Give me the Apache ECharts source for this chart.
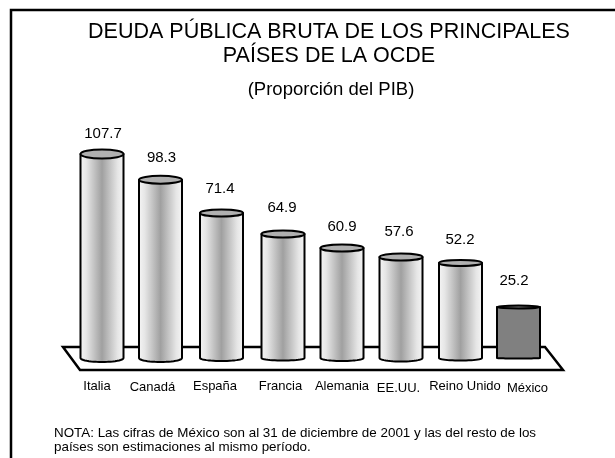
<!DOCTYPE html>
<html>
<head>
<meta charset="utf-8">
<style>html,body{margin:0;padding:0;background:#fff}#c{width:615px;height:458px}</style>
<script src="https://cdn.jsdelivr.net/npm/echarts@6/dist/echarts.min.js"></script>
</head>
<body>
<div id="c"></div>
<script>
const categories = ['Italia','Canadá','España','Francia','Alemania','EE.UU.','Reino Unido','México'];
// printed values above each cylinder
const printedValues = [107.7, 98.3, 71.4, 64.9, 60.9, 57.6, 52.2, 25.2];
// cylinder heights as drawn in the picture (the original art is not strictly proportional to the printed values)
const drawnHeights = [107.7, 94.1, 76.5, 65.5, 58.1, 53.3, 50.2, 26.9];

// style-only nudges
const capRy = [4.5, 4, 3.5, 3.5, 3.5, 3.5, 3, 1.5];
const baseRy = [4, 4, 3, 2.5, 3, 3.5, 2.5, 0.5];
const barDx = [0, -1, 0.5, 2.5, 2, 1.5, 1.5, 0];
const valueGap = [20, 22, 24, 26, 21, 25, 23, 26];
const valueDx = [1, 0, -1, 1.5, 2, -0.5, 1, -4.5];
const labelDx = [-5, -9, -6, 0, 2, -1, 6, 9];
const labelDy = [0, 1.5, 0, 0, 0, 2, 0, 2];

const rich = {};
categories.forEach((c, i) => {
  const dx = labelDx[i], dy = labelDy[i];
  rich['c' + i] = {
    fontFamily: 'Liberation Sans', fontSize: 13, color: '#000',
    padding: [dy, dx < 0 ? -2 * dx : 0, 0, dx > 0 ? 2 * dx : 0]
  };
});

const chart = echarts.init(document.getElementById('c'), null, {renderer: 'canvas'});
const titleStyle = {fontFamily: 'Liberation Sans', fontWeight: 'normal', color: '#000'};

chart.setOption({
  animation: false,
  backgroundColor: '#fff',
  title: [
    {text: 'DEUDA PÚBLICA BRUTA DE LOS PRINCIPALES\nPAÍSES DE LA OCDE', left: 324, top: 15.5, textAlign: 'center',
      textStyle: Object.assign({fontSize: 21.5, lineHeight: 24}, titleStyle)},
    {text: '(Proporción del PIB)', left: 326, top: 75, textAlign: 'center',
      textStyle: Object.assign({fontSize: 18.5}, titleStyle)},
    {text: 'NOTA: Las cifras de México son al 31 de diciembre de 2001 y las del resto de los\npaíses son estimaciones al mismo período.',
      left: 49, top: 421, textStyle: Object.assign({fontSize: 13.4, lineHeight: 14.5}, titleStyle)}
  ],
  grid: {left: 72.25, width: 476, top: 130.7, height: 227.3},
  xAxis: {
    type: 'category', data: categories,
    axisLine: {show: false}, axisTick: {show: false},
    axisLabel: {
      interval: 0, margin: 21.5, hideOverlap: false,
      formatter: (v, i) => '{c' + i + '|' + v + '}',
      rich
    }
  },
  yAxis: {type: 'value', min: 0, max: 120, show: false},
  graphic: [
    {type: 'polyline', z: 0, shape: {points: [[11, 458], [11, 10], [615, 10]]},
      style: {fill: null, stroke: '#000', lineWidth: 2.5}},
    {type: 'polygon', z: 0, shape: {points: [[63, 347], [545, 347], [563, 370], [80, 370]]},
      style: {fill: '#fff', stroke: '#000', lineWidth: 2.5}}
  ],
  series: [{
    type: 'custom',
    z: 5,
    clip: false,
    data: categories.map((c, i) => [i, drawnHeights[i], printedValues[i]]),
    encode: {x: 0, y: 1},
    renderItem(params, api) {
      const i = api.value(0);
      const top = api.coord([i, api.value(1)]);
      const base = api.coord([i, 0]);
      const cx = top[0] + barDx[i], rx = 21.5;
      const ry = capRy[i], by = baseRy[i];
      const isMx = i === categories.length - 1;
      const pts = [[cx - rx, top[1]], [cx - rx, base[1]]];
      for (let k = 1; k < 24; k++) {
        const t = Math.PI * k / 24;
        pts.push([cx - rx * Math.cos(t), base[1] + by * Math.sin(t)]);
      }
      pts.push([cx + rx, base[1]], [cx + rx, top[1]]);
      const fill = isMx ? '#808080' : {
        type: 'linear', x: 0, y: 0, x2: 1, y2: 0,
        colorStops: [{offset: 0, color: '#f6f6f6'}, {offset: 0.15, color: '#e6e6e6'},
          {offset: 0.5, color: '#a0a0a0'}, {offset: 0.85, color: '#e6e6e6'}, {offset: 1, color: '#f6f6f6'}]
      };
      return {
        type: 'group',
        children: [
          {type: 'polygon', shape: {points: pts}, style: {fill, stroke: '#000', lineWidth: 2, lineJoin: 'round'}},
          {type: 'ellipse', shape: {cx, cy: top[1], rx, ry}, style: {fill: isMx ? '#808080' : '#b0b0b0', stroke: '#000', lineWidth: 2}},
          {type: 'text', style: {
            text: api.value(2).toFixed(1), x: top[0] + valueDx[i], y: top[1] - valueGap[i],
            align: 'center', verticalAlign: 'middle',
            fontFamily: 'Liberation Sans', fontSize: 15, fill: '#000'}}
        ]
      };
    }
  }]
});
</script>
</body>
</html>
